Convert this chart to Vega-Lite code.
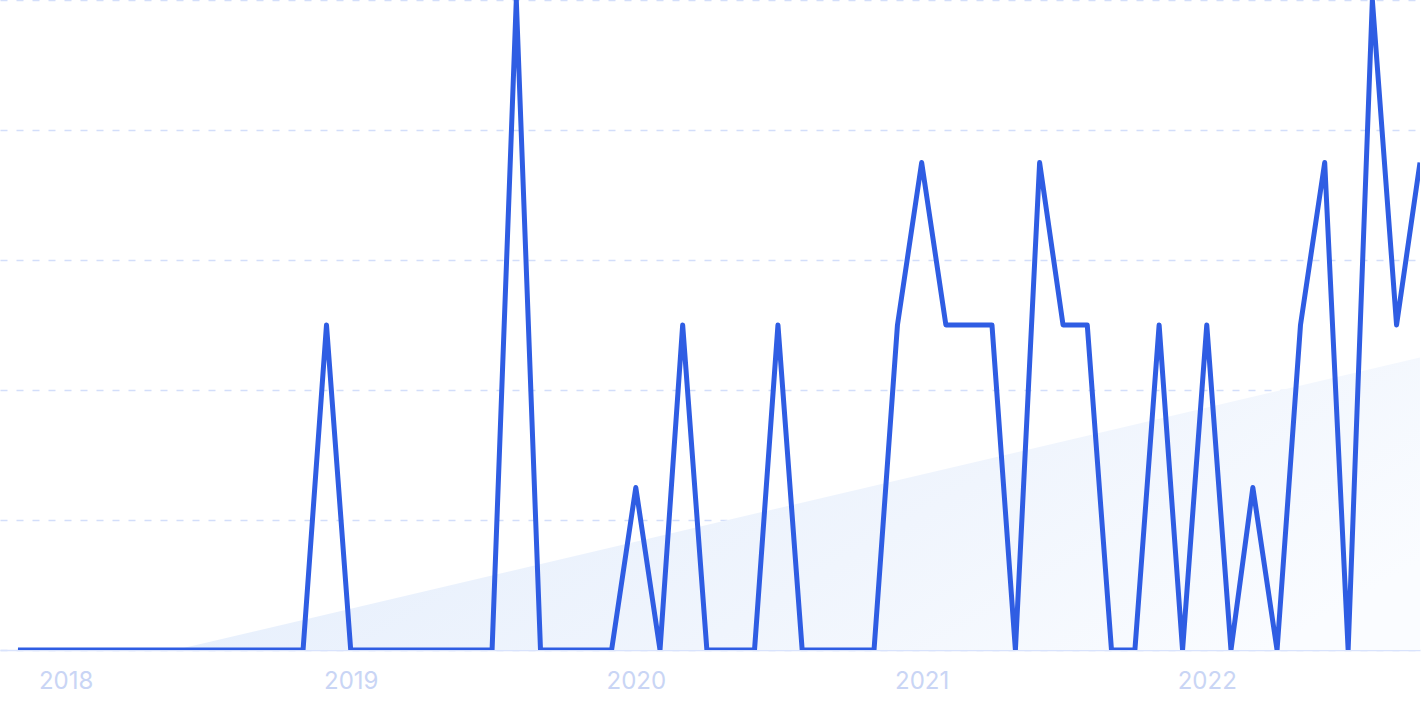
{
  "$schema": "https://vega.github.io/schema/vega-lite/v6.json",
  "width": 1420,
  "height": 650,
  "padding": {"top": 0, "left": 0, "right": 5, "bottom": 62},
  "autosize": {"type": "none"},
  "background": "white",
  "config": {"view": {"stroke": null}},
  "datasets": {
    "series": [
      {"date": "2017-11-01", "value": 0},
      {"date": "2017-12-01", "value": 0},
      {"date": "2018-01-01", "value": 0},
      {"date": "2018-02-01", "value": 0},
      {"date": "2018-03-01", "value": 0},
      {"date": "2018-04-01", "value": 0},
      {"date": "2018-05-01", "value": 0},
      {"date": "2018-06-01", "value": 0},
      {"date": "2018-07-01", "value": 0},
      {"date": "2018-08-01", "value": 0},
      {"date": "2018-09-01", "value": 0},
      {"date": "2018-10-01", "value": 0},
      {"date": "2018-11-01", "value": 0},
      {"date": "2018-12-01", "value": 50},
      {"date": "2019-01-01", "value": 0},
      {"date": "2019-02-01", "value": 0},
      {"date": "2019-03-01", "value": 0},
      {"date": "2019-04-01", "value": 0},
      {"date": "2019-05-01", "value": 0},
      {"date": "2019-06-01", "value": 0},
      {"date": "2019-07-01", "value": 0},
      {"date": "2019-08-01", "value": 100},
      {"date": "2019-09-01", "value": 0},
      {"date": "2019-10-01", "value": 0},
      {"date": "2019-11-01", "value": 0},
      {"date": "2019-12-01", "value": 0},
      {"date": "2020-01-01", "value": 25},
      {"date": "2020-02-01", "value": 0},
      {"date": "2020-03-01", "value": 50},
      {"date": "2020-04-01", "value": 0},
      {"date": "2020-05-01", "value": 0},
      {"date": "2020-06-01", "value": 0},
      {"date": "2020-07-01", "value": 50},
      {"date": "2020-08-01", "value": 0},
      {"date": "2020-09-01", "value": 0},
      {"date": "2020-10-01", "value": 0},
      {"date": "2020-11-01", "value": 0},
      {"date": "2020-12-01", "value": 50},
      {"date": "2021-01-01", "value": 75},
      {"date": "2021-02-01", "value": 50},
      {"date": "2021-03-01", "value": 50},
      {"date": "2021-04-01", "value": 50},
      {"date": "2021-05-01", "value": 0},
      {"date": "2021-06-01", "value": 75},
      {"date": "2021-07-01", "value": 50},
      {"date": "2021-08-01", "value": 50},
      {"date": "2021-09-01", "value": 0},
      {"date": "2021-10-01", "value": 0},
      {"date": "2021-11-01", "value": 50},
      {"date": "2021-12-01", "value": 0},
      {"date": "2022-01-01", "value": 50},
      {"date": "2022-02-01", "value": 0},
      {"date": "2022-03-01", "value": 25},
      {"date": "2022-04-01", "value": 0},
      {"date": "2022-05-01", "value": 50},
      {"date": "2022-06-01", "value": 75},
      {"date": "2022-07-01", "value": 0},
      {"date": "2022-08-01", "value": 100},
      {"date": "2022-09-01", "value": 50},
      {"date": "2022-10-01", "value": 75}
    ],
    "trend": [
      {"date": "2018-05-21", "value": 0},
      {"date": "2022-10-01", "value": 45}
    ]
  },
  "encoding": {
    "x": {
      "field": "date",
      "type": "temporal",
      "scale": {"domain": ["2017-10-09", "2022-10-01"]},
      "axis": {
        "title": null,
        "format": "%Y",
        "tickCount": {"interval": "year", "step": 1},
        "ticks": false,
        "grid": false,
        "domain": true,
        "domainColor": "#d9e3fc",
        "domainWidth": 1.5,
        "labelFont": "Inter",
        "labelFontSize": 24,
        "labelColor": "#c9d5f5",
        "labelPadding": 19,
        "labelFlush": false,
        "labelOverlap": false
      }
    },
    "y": {
      "field": "value",
      "type": "quantitative",
      "scale": {"domain": [0, 100], "nice": false},
      "axis": {
        "title": null,
        "labels": false,
        "ticks": false,
        "domain": false,
        "grid": true,
        "values": [0, 20, 40, 60, 80, 100],
        "gridColor": "#d3defa",
        "gridDash": [7, 9],
        "gridWidth": 1.5
      }
    }
  },
  "layer": [
    {
      "data": {"name": "trend"},
      "mark": {
        "type": "area",
        "fill": {
          "gradient": "linear",
          "x1": 0, "y1": 0.3, "x2": 1, "y2": 0.7,
          "stops": [
            {"offset": 0, "color": "#e3edfc"},
            {"offset": 0.6, "color": "#f0f5fd"},
            {"offset": 1, "color": "#fafcff"}
          ]
        }
      }
    },
    {
      "data": {"name": "series"},
      "mark": {
        "type": "line",
        "color": "#2f5de3",
        "strokeWidth": 5,
        "strokeJoin": "round",
        "clip": true
      }
    }
  ]
}
